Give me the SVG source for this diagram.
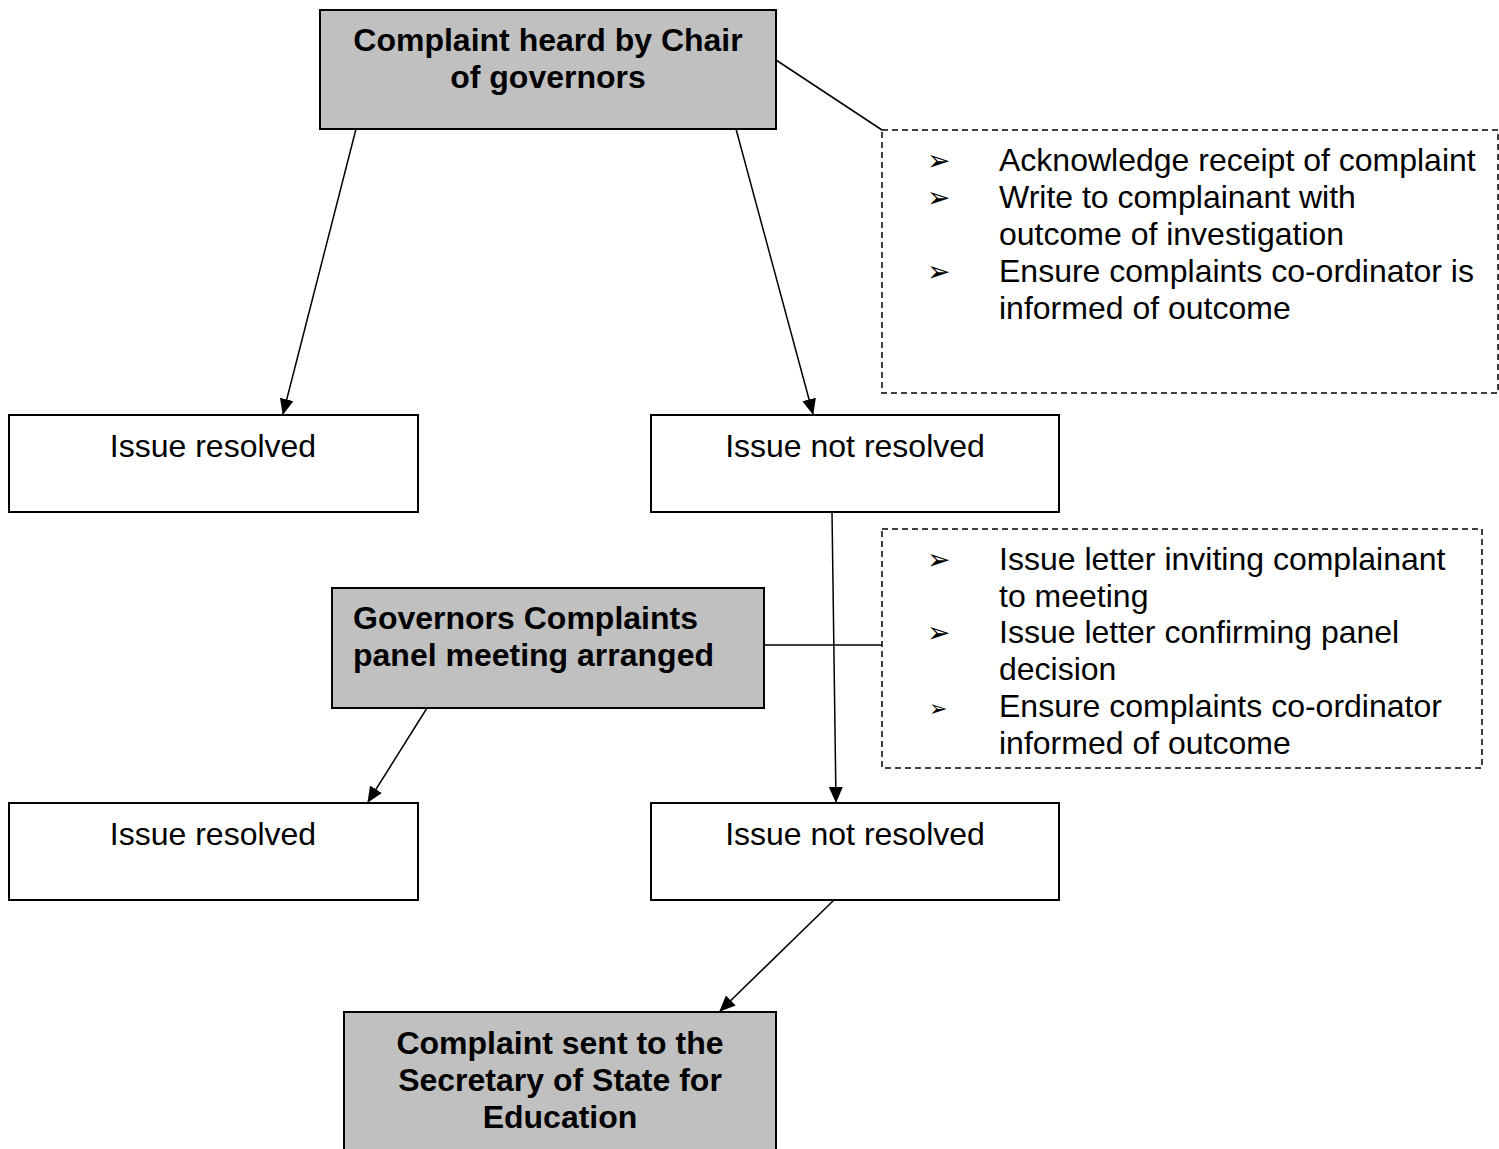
<svg xmlns="http://www.w3.org/2000/svg" width="1499" height="1149" viewBox="0 0 1499 1149">
<style>
.g{fill:#c0c0c0;stroke:#000;stroke-width:2}
.w{fill:#fff;stroke:#000;stroke-width:2}
.d{fill:#fff;stroke:#000;stroke-width:1.5;stroke-dasharray:6,4}
.b{font-family:"Liberation Sans",Arial,sans-serif;font-size:32px;font-weight:bold;fill:#000}
.t{font-family:"Liberation Sans",Arial,sans-serif;font-size:32px;fill:#000}
.bl{font-family:"DejaVu Sans",sans-serif;font-size:28px;fill:#000}
.c{fill:none;stroke:#000;stroke-width:1.5}
</style>
<defs>
<marker id="ah" markerWidth="16" markerHeight="14" refX="15" refY="7" orient="auto" markerUnits="userSpaceOnUse">
<path d="M0,0 L16,7 L0,14 z" fill="#000"/>
</marker>
</defs>
<g id="connectors">
<line class="c" x1="776" y1="60" x2="882" y2="130"/>
<line class="c" x1="356" y1="129" x2="283" y2="414" marker-end="url(#ah)"/>
<line class="c" x1="736" y1="129" x2="813" y2="414" marker-end="url(#ah)"/>
<line class="c" x1="832" y1="512" x2="836" y2="802" marker-end="url(#ah)"/>
<line class="c" x1="764" y1="645" x2="882" y2="645"/>
<line class="c" x1="427" y1="708" x2="368" y2="802" marker-end="url(#ah)"/>
<line class="c" x1="834" y1="900" x2="720" y2="1011" marker-end="url(#ah)"/>
</g>
<g id="chair">
<rect class="g" x="320" y="10" width="456" height="119"/>
<text class="b" text-anchor="middle" x="548" y="51">Complaint heard by Chair</text>
<text class="b" text-anchor="middle" x="548" y="88">of governors</text>
</g>
<g id="notes1">
<rect class="d" x="882" y="130" width="616" height="263"/>
<text class="bl" x="927" y="170">➢</text>
<text class="t" x="999" y="171">Acknowledge receipt of complaint</text>
<text class="bl" x="927" y="207">➢</text>
<text class="t" x="999" y="208">Write to complainant with</text>
<text class="t" x="999" y="245">outcome of investigation</text>
<text class="bl" x="927" y="281">➢</text>
<text class="t" x="999" y="282">Ensure complaints co-ordinator is</text>
<text class="t" x="999" y="319">informed of outcome</text>
</g>
<g id="resolved1">
<rect class="w" x="9" y="415" width="409" height="97"/>
<text class="t" text-anchor="middle" x="213" y="457">Issue resolved</text>
</g>
<g id="notresolved1">
<rect class="w" x="651" y="415" width="408" height="97"/>
<text class="t" text-anchor="middle" x="855" y="457">Issue not resolved</text>
</g>
<g id="notes2">
<rect class="d" x="882" y="529" width="600" height="239"/>
<text class="bl" x="927" y="569">➢</text>
<text class="t" x="999" y="570">Issue letter inviting complainant</text>
<text class="t" x="999" y="607">to meeting</text>
<text class="bl" x="927" y="642">➢</text>
<text class="t" x="999" y="643">Issue letter confirming panel</text>
<text class="t" x="999" y="680">decision</text>
<text class="bl" x="929" y="716" style="font-size:22px">➢</text>
<text class="t" x="999" y="717">Ensure complaints co-ordinator</text>
<text class="t" x="999" y="754">informed of outcome</text>
</g>
<g id="panel">
<rect class="g" x="332" y="588" width="432" height="120"/>
<text class="b" x="353" y="629">Governors Complaints</text>
<text class="b" x="353" y="666">panel meeting arranged</text>
</g>
<g id="resolved2">
<rect class="w" x="9" y="803" width="409" height="97"/>
<text class="t" text-anchor="middle" x="213" y="845">Issue resolved</text>
</g>
<g id="notresolved2">
<rect class="w" x="651" y="803" width="408" height="97"/>
<text class="t" text-anchor="middle" x="855" y="845">Issue not resolved</text>
</g>
<g id="secretary">
<rect class="g" x="344" y="1012" width="432" height="150"/>
<text class="b" text-anchor="middle" x="560" y="1054">Complaint sent to the</text>
<text class="b" text-anchor="middle" x="560" y="1091">Secretary of State for</text>
<text class="b" text-anchor="middle" x="560" y="1128">Education</text>
</g>
</svg>
